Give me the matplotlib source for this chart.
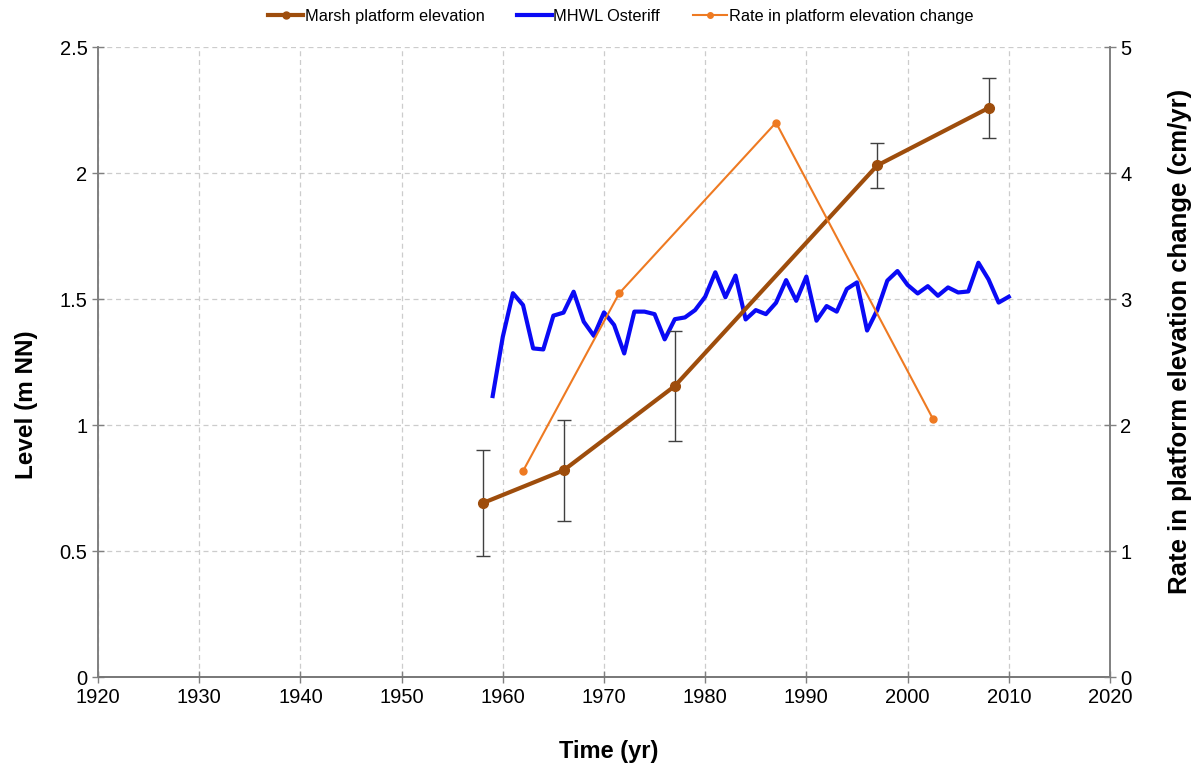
import matplotlib.pyplot as plt
from matplotlib.lines import Line2D

plt.rcParams['font.family'] = ['Liberation Sans', 'DejaVu Sans']

# Marsh platform elevation (m NN) with error bars
marsh_years = [1958, 1966, 1977, 1997, 2008]
marsh_level = [0.69, 0.82, 1.155, 2.03, 2.258]
marsh_err = [0.21, 0.20, 0.22, 0.09, 0.12]

# Rate in platform elevation change (cm/yr), at midpoints
rate_years = [1962, 1971.5, 1987, 2002.5]
rate_vals = [1.635, 3.045, 4.40, 2.05]

# MHWL Osteriff (m NN), annual
mhwl_years = list(range(1959, 2011))
mhwl_vals = [1.115, 1.35, 1.523, 1.476, 1.304, 1.30, 1.434, 1.446, 1.529, 1.41,
             1.354, 1.447, 1.397, 1.284, 1.45, 1.45, 1.44, 1.34, 1.42, 1.427,
             1.456, 1.509, 1.606, 1.507, 1.593, 1.419, 1.456, 1.44, 1.485, 1.575,
             1.493, 1.589, 1.414, 1.472, 1.45, 1.54, 1.566, 1.375, 1.456, 1.573,
             1.611, 1.556, 1.522, 1.551, 1.513, 1.546, 1.526, 1.53, 1.644, 1.578,
             1.486, 1.509]

brown = '#9E4D0C'
orange = '#EE7A22'
blue = '#0A0AF5'
spine_col = '#808080'

fig = plt.figure(figsize=(11.94, 7.67), dpi=100)
ax = fig.add_axes([0.0821, 0.1173, 0.8475, 0.8214])
ax2 = ax.twinx()

ax.plot(mhwl_years, mhwl_vals, color=blue, lw=3, zorder=3)
ax.errorbar(marsh_years, marsh_level, yerr=marsh_err, color=brown, lw=3,
            marker='o', ms=7, ecolor='#404040', elinewidth=1, capsize=5,
            capthick=1, zorder=4)
ax2.plot(rate_years, rate_vals, color=orange, lw=1.5, marker='o', ms=5)

ax.set_xlim(1920, 2020)
ax.set_ylim(0, 2.5)
ax2.set_ylim(0, 5)
ax.set_xticks(range(1920, 2021, 10))
ax.set_yticks([0, 0.5, 1, 1.5, 2, 2.5])
ax.set_yticklabels(['0', '0.5', '1', '1.5', '2', '2.5'])
ax2.set_yticks(range(0, 6))

ax.grid(True, ls=(0, (4, 3)), color='#CCCCCC', lw=0.9)
ax.set_axisbelow(True)

for a in (ax, ax2):
    a.spines['top'].set_visible(False)
    for s in ('left', 'right', 'bottom'):
        a.spines[s].set_color(spine_col)
        a.spines[s].set_linewidth(1.2)
    a.tick_params(direction='inout', length=8, width=1, color=spine_col,
                  labelsize=14.5)
ax.spines['bottom'].set_color('#404040')
ax.tick_params(axis='x', pad=4)

ax.set_xlabel('Time (yr)', fontsize=17, fontweight='bold')
ax.set_ylabel('Level (m NN)', fontsize=17.5, fontweight='bold')
ax2.set_ylabel('Rate in platform elevation change (cm/yr)', fontsize=18.5,
               fontweight='bold')
ax.xaxis.set_label_coords(0.505, -0.1)
ax.yaxis.set_label_coords(-0.059, 0.433)
ax2.yaxis.set_label_coords(1.057, 0.532)

handles = [
    Line2D([], [], color=brown, lw=3, marker='o', ms=5),
    Line2D([], [], color=blue, lw=3),
    Line2D([], [], color=orange, lw=1.5, marker='o', ms=4),
]
labels = ['Marsh platform elevation', 'MHWL Osteriff',
          'Rate in platform elevation change']
fig.legend(handles, labels, loc='upper center', bbox_to_anchor=(0.52, 1.008),
           ncol=3, frameon=False, fontsize=11.8, handlelength=2.1,
           handletextpad=0.1, columnspacing=2.0)

fig.savefig('out.png', dpi=100)
